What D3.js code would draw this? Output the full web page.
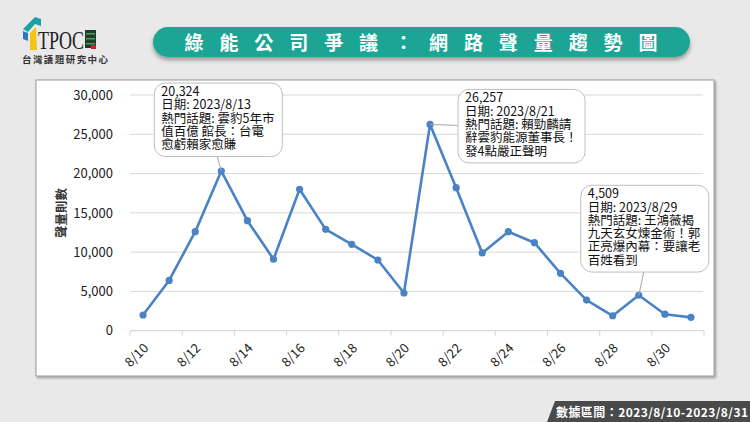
<!DOCTYPE html>
<html>
<head>
<meta charset="utf-8">
<script src="https://cdn.jsdelivr.net/npm/d3@7"></script>
<style>
html,body{margin:0;padding:0;background:#e9e9e9;}
svg{display:block;font-family:"Noto Sans CJK TC","Noto Sans",sans-serif;}
</style>
</head>
<body>
<svg id="chart" width="750" height="422"></svg>
<script>
// ---- data ----
const dates = ["8/10","8/11","8/12","8/13","8/14","8/15","8/16","8/17","8/18","8/19","8/20",
               "8/21","8/22","8/23","8/24","8/25","8/26","8/27","8/28","8/29","8/30","8/31"];
const volumes = [2000, 6400, 12600, 20324, 14000, 9100, 18000, 12900, 11000, 9000, 4800,
                 26257, 18200, 9900, 12600, 11200, 7300, 3900, 1900, 4509, 2100, 1700];
const yTicks = [0, 5000, 10000, 15000, 20000, 25000, 30000];
const xTickLabels = ["8/10","8/12","8/14","8/16","8/18","8/20","8/22","8/24","8/26","8/28","8/30"];
const titleText = "綠能公司爭議：網路聲量趨勢圖";
const yAxisTitle = "聲量則數";
const rangeText = "數據區間：2023/8/10-2023/8/31";
const orgName = "台灣議題研究中心";
const annotationDates = ["8/13", "8/21", "8/29"];
const annotationLines = [
  ["20,324", "日期: 2023/8/13", "熱門話題: 雲豹5年市", "值百億 館長：台電", "愈虧賴家愈賺"],
  ["26,257", "日期: 2023/8/21", "熱門話題: 賴勁麟請", "辭雲豹能源董事長！", "發4點嚴正聲明"],
  ["4,509", "日期: 2023/8/29", "熱門話題: 王鴻薇揭", "九天玄女煉金術！郭", "正亮爆內幕：要讓老", "百姓看到"]
];
// callout box layout (offsets from the data point), kept separate from data
const calloutLayout = [
  {dx: -67, dy: -88, w: 128, anchor: "bottom", ax: -4},
  {dx: 28,  dy: -35, w: 127, anchor: "left",   ay: 1},
  {dx: -58, dy: -110, w: 128, anchor: "bottom", ax: 5}
];

const svg = d3.select("#chart");
const W = 750, H = 422;

// defs
const defs = svg.append("defs");
const sh = defs.append("filter").attr("id","bshadow").attr("x","-5%").attr("y","-30%").attr("width","110%").attr("height","170%");
sh.append("feDropShadow").attr("dx",0).attr("dy",3).attr("stdDeviation",2).attr("flood-color","#000").attr("flood-opacity",0.35);
const fs = defs.append("filter").attr("id","fshadow").attr("x","-2%").attr("y","-2%").attr("width","104%").attr("height","104%");
fs.append("feDropShadow").attr("dx",1.5).attr("dy",1.5).attr("stdDeviation",1).attr("flood-color","#000").attr("flood-opacity",0.35);

// background
svg.append("rect").attr("width",W).attr("height",H).attr("fill","#e9e9e9");

// ---- logo ----
const logo = svg.append("g");
logo.append("path").attr("d","M23,29 L35,17 L41,19 L41,26 L35,24 L28,32 Z").attr("fill","#1aa3a0");
logo.append("path").attr("d","M23,31 L28,33 L28,41 L23,39 Z").attr("fill","#2c78c0");
logo.append("path").attr("d","M30,33 L36,27 L37,50 L30,50 Z").attr("fill","#f2c418");
logo.append("text").attr("x",38).attr("y",49).attr("font-family","'Liberation Serif','DejaVu Serif',serif")
  .attr("font-size",26).attr("fill","#222").attr("textLength",46).attr("lengthAdjust","spacingAndGlyphs").text("TPOC");
logo.append("rect").attr("x",85).attr("y",30).attr("width",11).attr("height",18).attr("fill","#1e3d2a");
[33,38,43].forEach(y=>logo.append("rect").attr("x",86).attr("y",y).attr("width",9).attr("height",1.5).attr("fill","#5a9a5a"));
logo.append("rect").attr("x",91).attr("y",45).attr("width",5).attr("height",4).attr("fill","#c0262d");
logo.append("text").attr("x",65).attr("y",62.5).attr("text-anchor","middle").attr("font-size",9.5).attr("font-weight","bold")
  .attr("fill","#333").attr("textLength",86).attr("lengthAdjust","spacing").text(orgName);

// ---- title banner ----
svg.append("rect").attr("x",153).attr("y",27).attr("width",537).attr("height",30).attr("rx",15)
  .attr("fill","#1ba595").attr("filter","url(#bshadow)");
svg.append("text").attr("x",421).attr("y",49.5).attr("text-anchor","middle").attr("font-size",19).attr("font-weight","bold")
  .attr("fill","#fff").attr("textLength",473).attr("lengthAdjust","spacing").text(titleText);

// ---- chart frame ----
svg.append("rect").attr("x",36).attr("y",80).attr("width",678).attr("height",296)
  .attr("fill","#fff").attr("stroke","#9a9a9a").attr("stroke-width",1).attr("filter","url(#fshadow)");

// scales
const x = d3.scaleBand().domain(dates).range([130, 704]).paddingInner(0).paddingOuter(0);
const y = d3.scaleLinear().domain([0, 30000]).range([330.7, 95]);

// gridlines
svg.append("g").selectAll("line").data(yTicks.filter(d=>d>0)).join("line")
  .attr("x1",130).attr("x2",703).attr("y1",d=>y(d)).attr("y2",d=>y(d))
  .attr("stroke","#d9d9d9").attr("stroke-width",1);

// y axis labels
const yAxis = d3.axisLeft(y).tickValues(yTicks).tickFormat(d3.format(",")).tickSize(0).tickPadding(0);
const yg = svg.append("g").attr("transform","translate(113,0)").call(yAxis);
yg.select(".domain").remove();
yg.selectAll("text").attr("font-size",13).attr("fill","#222").attr("font-family","'Noto Sans CJK TC','Noto Sans',sans-serif");

// y axis title
svg.append("text").attr("transform","translate(66,213) rotate(-90)").attr("text-anchor","middle")
  .attr("font-size",12.5).attr("font-weight","bold").attr("fill","#333").text(yAxisTitle);

// x axis baseline + ticks at every other category boundary
const xg = svg.append("g");
xg.append("line").attr("x1",130).attr("x2",704).attr("y1",y(0)).attr("y2",y(0)).attr("stroke","#d9d9d9").attr("stroke-width",1.2);
const boundaries = dates.filter((d,i)=>i%2===0).map(d=>x(d)).concat([x(dates[dates.length-1]) + x.bandwidth()]);
xg.selectAll("line.tk").data(boundaries).join("line").attr("class","tk")
  .attr("x1",d=>d).attr("x2",d=>d).attr("y1",y(0)).attr("y2",y(0)+5).attr("stroke","#d9d9d9").attr("stroke-width",1.2);
xg.selectAll("text").data(xTickLabels).join("text")
  .attr("transform",d=>`translate(${x(d)+x.bandwidth()/2+3},${y(0)+15}) rotate(-45)`)
  .attr("text-anchor","end").attr("dy","0.35em").attr("font-size",13).attr("fill","#222").text(d=>d);

// line
const color = "#4a82c6";
const line = d3.line().x((d,i)=>x(dates[i])+x.bandwidth()/2).y(d=>y(d));
svg.append("path").datum(volumes).attr("d",line).attr("fill","none").attr("stroke",color)
  .attr("stroke-width",2.6).attr("stroke-linejoin","round");
svg.append("g").selectAll("circle").data(volumes).join("circle")
  .attr("cx",(d,i)=>x(dates[i])+x.bandwidth()/2).attr("cy",d=>y(d)).attr("r",3.6).attr("fill",color);

// callouts
const lineH = 13.3;
annotationDates.forEach((dt,k)=>{
  const i = dates.indexOf(dt);
  const px = x(dt)+x.bandwidth()/2, py = y(volumes[i]);
  const L = calloutLayout[k];
  const lines = annotationLines[k];
  const bx = px + L.dx, by = py + L.dy, bw = L.w, bh = lines.length*lineH + 7;
  const g = svg.append("g");
  let lx, ly;
  if (L.anchor === "bottom") { lx = px + L.ax; ly = by + bh; }
  else { lx = bx; ly = py + L.ay; }
  g.append("line").attr("x1",px).attr("y1",py).attr("x2",lx).attr("y2",ly).attr("stroke","#a6a6a6").attr("stroke-width",1);
  g.append("rect").attr("x",bx).attr("y",by).attr("width",bw).attr("height",bh).attr("rx",11)
    .attr("fill","#fff").attr("stroke","#bfbfbf").attr("stroke-width",1);
  const t = g.append("text").attr("font-size",12.5).attr("fill","#111");
  t.selectAll("tspan").data(lines).join("tspan")
    .attr("x",bx+7).attr("y",(d,j)=>by+13+j*lineH).text(d=>d);
});

// bottom-right range label
svg.append("path").attr("d","M547,422 L555,401 L750,401 L750,422 Z").attr("fill","#4a4a4a");
svg.append("text").attr("x",556).attr("y",417).attr("font-size",12).attr("font-weight","bold").attr("fill","#fff")
  .attr("textLength",192).attr("lengthAdjust","spacing").text(rangeText);
</script>
</body>
</html>
